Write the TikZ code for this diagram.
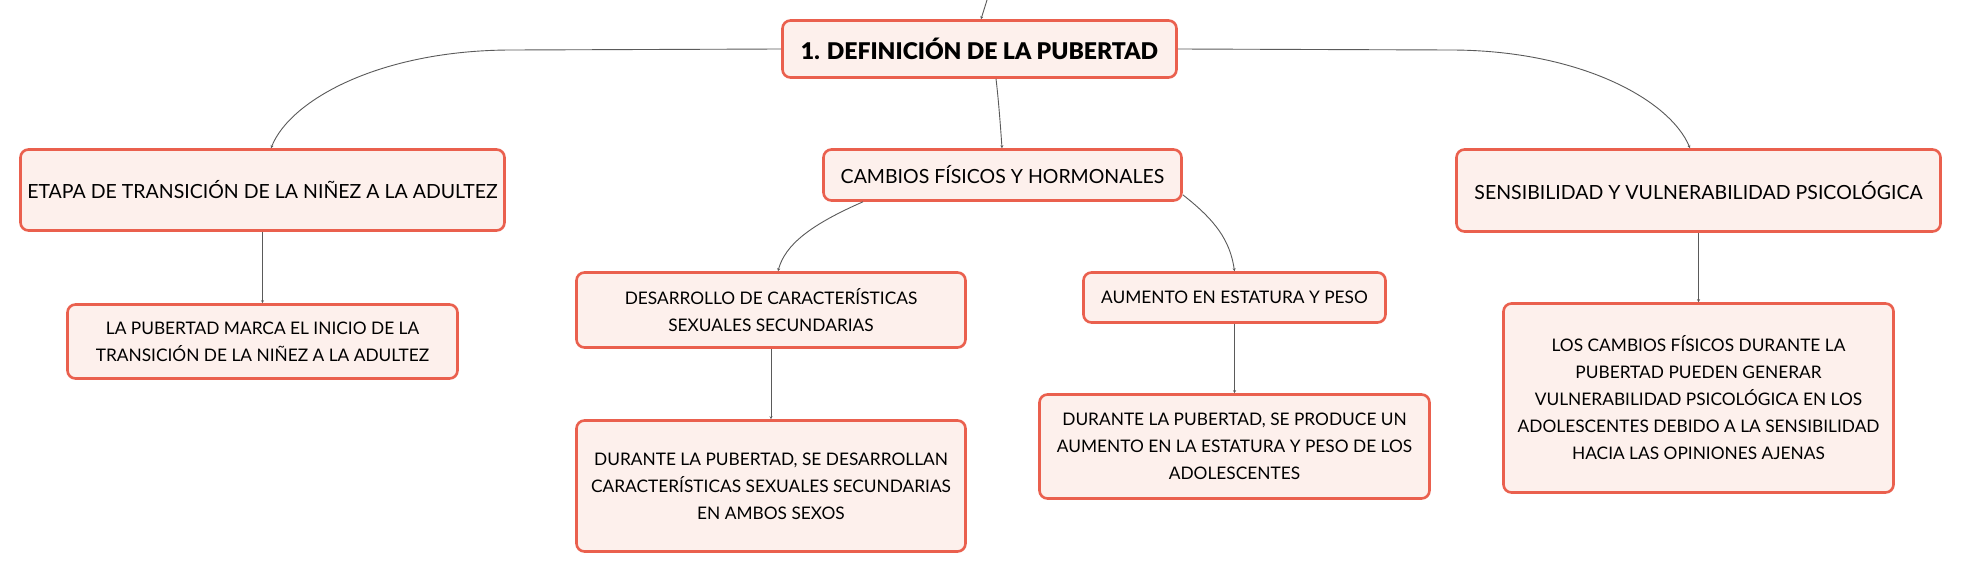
\documentclass[tikz,border=0pt]{standalone}
\usepackage{fontspec}
\setmainfont{Lato}
\newfontfamily\titlefont{Lato Black}
\usetikzlibrary{arrows.meta}

\tikzset{
  topicbox/.style={draw=boxColor,line width=2.6pt,fill=boxFill,rounded corners=8pt,
    align=center,inner sep=4pt,text=black},
  headbox/.style={topicbox,font=\fontsize{19.5}{23}\selectfont},
  leafbox/.style={topicbox,font=\fontsize{17.3}{27}\selectfont},
  conn/.style={draw=lineColor,line width=0.9pt,-{Stealth[length=3pt,width=3pt]}}
}

\begin{document}
\begin{tikzpicture}[x=1pt,y=1pt]
\definecolor{boxColor}{RGB}{234,96,78}
\definecolor{boxFill}{RGB}{253,240,236}
\definecolor{lineColor}{RGB}{90,90,90}
\path[use as bounding box,fill=white] (0,0) rectangle (1961,574);

% main topic
\node[topicbox,minimum width=394,minimum height=57,font=\fontsize{23}{26}\titlefont] (main) at (979.5,525) {1. DEFINICIÓN DE LA PUBERTAD};

% first level
\node[headbox,minimum width=484,minimum height=81] (etapa) at (262.5,384) {ETAPA DE TRANSICIÓN DE LA NIÑEZ A LA ADULTEZ};
\node[headbox,minimum width=358,minimum height=51] (cambios) at (1002.5,399) {CAMBIOS FÍSICOS Y HORMONALES};
\node[headbox,minimum width=484,minimum height=82] (sensi) at (1698.5,383.5) {SENSIBILIDAD Y VULNERABILIDAD PSICOLÓGICA};

% second level
\node[leafbox,minimum width=389,minimum height=75] (desarrollo) at (771,264) {DESARROLLO DE CARACTERÍSTICAS\\SEXUALES SECUNDARIAS};
\node[leafbox,minimum width=302,minimum height=50] (aumento) at (1234.5,276.5) {AUMENTO EN ESTATURA Y PESO};

% leaves
\node[leafbox,minimum width=390,minimum height=74] (etapaleaf) at (262.5,232.5) {LA PUBERTAD MARCA EL INICIO DE LA\\TRANSICIÓN DE LA NIÑEZ A LA ADULTEZ};
\node[leafbox,minimum width=389,minimum height=131] (desarrolloleaf) at (771,88) {DURANTE LA PUBERTAD, SE DESARROLLAN\\CARACTERÍSTICAS SEXUALES SECUNDARIAS\\EN AMBOS SEXOS};
\node[leafbox,minimum width=390,minimum height=104] (aumentoleaf) at (1234.5,127.5) {DURANTE LA PUBERTAD, SE PRODUCE UN\\AUMENTO EN LA ESTATURA Y PESO DE LOS\\ADOLESCENTES};
\node[leafbox,minimum width=390,minimum height=189] (sensileaf) at (1698.5,176) {LOS CAMBIOS FÍSICOS DURANTE LA\\PUBERTAD PUEDEN GENERAR\\VULNERABILIDAD PSICOLÓGICA EN LOS\\ADOLESCENTES DEBIDO A LA SENSIBILIDAD\\HACIA LAS OPINIONES AJENAS};

% connectors
\coordinate (top) at (987,574);
\draw[conn] (top) -- ([xshift=1.5]main.north);
\draw[conn] ([xshift=16.5]main.south) .. controls (999,470) and (1001,440) .. ([xshift=-0.5]cambios.north);
\draw[conn] (main.west) -- (512,524) .. controls (380,524) and (290,474) .. ([xshift=8.5]etapa.north);
\draw[conn] (main.east) -- (1450,524) .. controls (1580,524) and (1670,474) .. ([xshift=-8.5]sensi.north);
\draw[conn] ([xshift=-139.5]cambios.south) .. controls (810,349) and (785,329) .. ([xshift=7]desarrollo.north);
\draw[conn] ([yshift=7]cambios.south east) .. controls (1215,354) and (1230,334) .. (aumento.north);

\draw[conn] (etapa.south) -- (etapaleaf.north);
\draw[conn] (desarrollo.south) -- (desarrolloleaf.north);
\draw[conn] (aumento.south) -- (aumentoleaf.north);
\draw[conn] (sensi.south) -- (sensileaf.north);
\end{tikzpicture}
\end{document}
